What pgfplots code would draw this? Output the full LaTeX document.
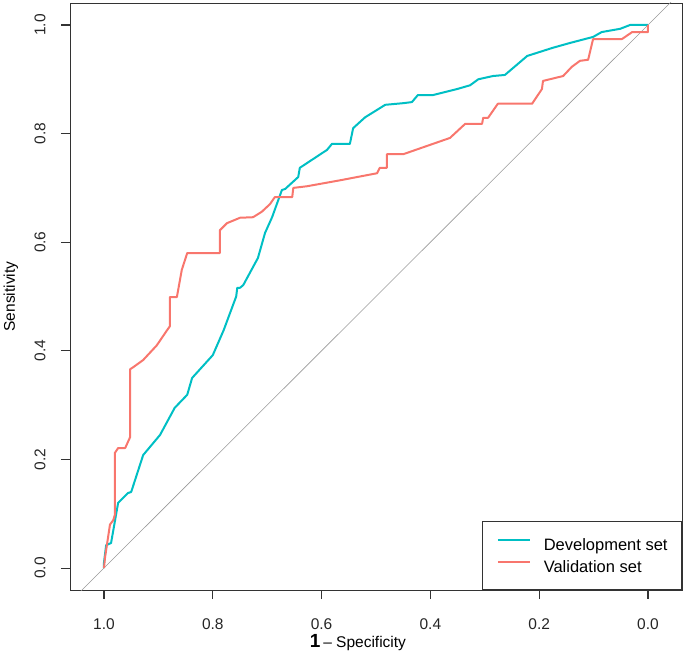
\documentclass[border=0pt]{standalone}
\usepackage{fontspec}
\setmainfont{Liberation Sans}
\usepackage{pgfplots}
\pgfplotsset{compat=1.18}
\definecolor{devcol}{RGB}{0,191,196}
\definecolor{valcol}{RGB}{248,118,109}
\begin{document}
\begin{tikzpicture}
\begin{axis}[
    at={(70pt,74pt)}, anchor=south west,
    scale only axis,
    width=612pt, height=587pt,
    x dir=reverse,
    xmin=-0.0625, xmax=1.0625,
    ymin=-0.0405, ymax=1.0405,
    xtick={0,0.2,0.4,0.6,0.8,1}, ytick={0,0.2,0.4,0.6,0.8,1},
    xtick pos=bottom, ytick pos=left,
    tick align=outside,
    major tick length=9pt,
    major tick style={draw=black!80, line width=0.8pt},
    axis line style={black!80, line width=0.8pt},
    /pgf/number format/assume math mode=true,
    xticklabel={\pgfmathprintnumber[fixed, fixed zerofill, precision=1]{\tick}},
    yticklabel={\pgfmathprintnumber[fixed, fixed zerofill, precision=1]{\tick}},
    tick label style={font=\fontsize{15.5}{18}\selectfont, text=black!85},
    xticklabel style={anchor=center, yshift=-25pt},
    yticklabel style={anchor=center, rotate=90, yshift=21pt},
    every axis x label/.style={at={(rel axis cs:0.5,0)}, yshift=-53pt, xshift=-18pt, anchor=center},
    every axis y label/.style={at={(rel axis cs:0,0.5)}, xshift=-59pt, rotate=90, anchor=center},
    xlabel={{\fontsize{19}{20}\selectfont\bfseries 1} {\fontsize{15.5}{18}\selectfont -- Specificity}},
    ylabel={\fontsize{15.5}{18}\selectfont Sensitivity},
    % R-style outward tick marks, drawn once more after the axis so they are not clipped
    after end axis/.code={
        \foreach \v in {0,0.2,0.4,0.6,0.8,1} {
            \draw[black!80, line width=1pt] (axis cs:\v,-0.0405) -- ++(0pt,-9pt);
            \draw[black!80, line width=1pt] (axis cs:1.0625,\v) -- ++(-9pt,0pt);
        }
    },
    legend cell align=left,
    legend image code/.code={\draw[#1] (0pt,5pt) -- (32pt,5pt);},
    legend style={at={(rel axis cs:1,0)}, anchor=south east, draw=black!80, line width=0.8pt,
        fill=white, font=\fontsize{16.5}{20}\selectfont, inner xsep=14pt, inner ysep=15pt,
        row sep=6pt, column sep=13pt,
        nodes={inner sep=0pt, text height=14pt, text depth=2pt}},
]
% reference diagonal
\addplot[forget plot, black!40, line width=0.6pt] coordinates {(1.1,-0.1) (-0.1,1.1)};

% Development set
\addplot[devcol, line width=2pt, line join=round] coordinates {
(1.0,0.0) (1.0,0.01) (0.996,0.042) (0.987,0.046) (0.974,0.12) (0.956,0.138)
(0.950,0.14) (0.928,0.208) (0.897,0.245) (0.87,0.295) (0.847,0.319) (0.838,0.35)
(0.80,0.392) (0.78,0.438) (0.757,0.50) (0.755,0.516) (0.75,0.516) (0.744,0.521)
(0.717,0.571) (0.704,0.617) (0.691,0.646) (0.673,0.696) (0.667,0.698) (0.643,0.72)
(0.64,0.737) (0.59,0.77) (0.581,0.781) (0.548,0.781) (0.542,0.81) (0.52,0.83)
(0.483,0.853) (0.45,0.856) (0.434,0.858) (0.423,0.871) (0.395,0.871) (0.351,0.882)
(0.327,0.889) (0.312,0.90) (0.285,0.906) (0.263,0.908) (0.222,0.943) (0.175,0.958)
(0.143,0.967) (0.101,0.978) (0.085,0.987) (0.051,0.993) (0.033,1.0) (0.0,1.0)
};
\addlegendentry{Development set}

% Validation set
\addplot[valcol, line width=2pt, line join=round] coordinates {
(1.0,0.0) (0.998,0.02) (0.989,0.08) (0.983,0.088) (0.980,0.098) (0.980,0.212)
(0.974,0.221) (0.961,0.221) (0.952,0.241) (0.952,0.366) (0.946,0.37) (0.928,0.383)
(0.903,0.41) (0.884,0.438) (0.879,0.445) (0.879,0.499) (0.866,0.499) (0.857,0.549)
(0.847,0.58) (0.787,0.58) (0.787,0.622) (0.774,0.635) (0.75,0.645) (0.726,0.646)
(0.71,0.656) (0.695,0.67) (0.686,0.683) (0.654,0.683) (0.652,0.70) (0.627,0.703)
(0.566,0.714) (0.498,0.727) (0.493,0.737) (0.48,0.737) (0.48,0.762) (0.45,0.762)
(0.364,0.792) (0.336,0.818) (0.305,0.818) (0.303,0.829) (0.294,0.829) (0.276,0.855)
(0.213,0.855) (0.195,0.882) (0.193,0.897) (0.156,0.906) (0.14,0.923) (0.125,0.934)
(0.11,0.936) (0.101,0.974) (0.048,0.974) (0.029,0.987) (0.0,0.987) (0.0,1.0)
};
\addlegendentry{Validation set}
\end{axis}
\pgfresetboundingbox
\path (0,0) rectangle (685pt,664pt);
\end{tikzpicture}
\end{document}
